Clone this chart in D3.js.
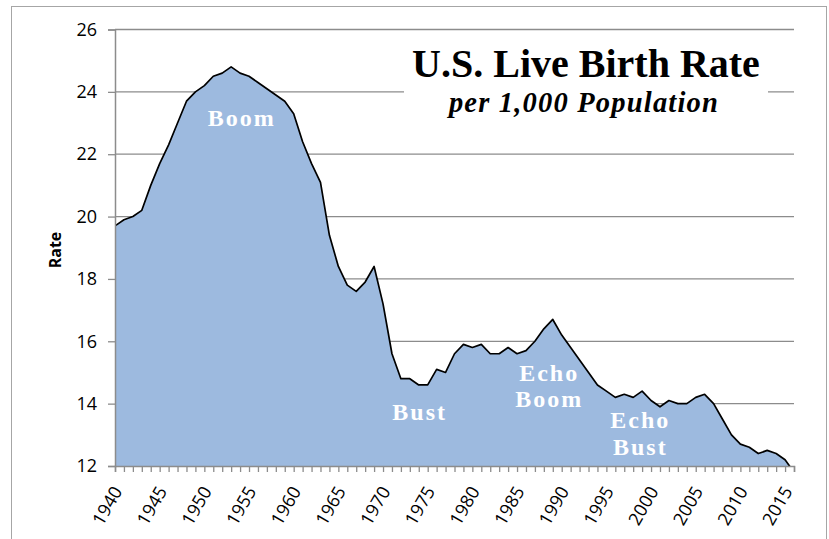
<!DOCTYPE html>
<html>
<head>
<meta charset="utf-8">
<script src="https://cdn.jsdelivr.net/npm/d3@7"></script>
<style>
  body { margin: 0; background: #fff; }
  svg { display: block; }
</style>
</head>
<body>
<div id="chart"></div>
<script>
/* global d3 */

// data
const years = d3.range(1940, 2017);
const rates = [
  19.7, 19.9, 20.0, 20.2, 21.0, 21.7, 22.3, 23.0, 23.7, 24.0,
  24.2, 24.5, 24.6, 24.8, 24.6, 24.5, 24.3, 24.1, 23.9, 23.7,
  23.3, 22.4, 21.7, 21.1, 19.4, 18.4, 17.8, 17.6, 17.9, 18.4,
  17.2, 15.6, 14.8, 14.8, 14.6, 14.6, 15.1, 15.0, 15.6, 15.9,
  15.8, 15.9, 15.6, 15.6, 15.8, 15.6, 15.7, 16.0, 16.4, 16.7,
  16.2, 15.8, 15.4, 15.0, 14.6, 14.4, 14.2, 14.3, 14.2, 14.4,
  14.1, 13.9, 14.1, 14.0, 14.0, 14.2, 14.3, 14.0, 13.5, 13.0,
  12.7, 12.6, 12.4, 12.5, 12.4, 12.2, 11.8,
];
const yTicks = [12, 14, 16, 18, 20, 22, 24, 26];
const xLabelYears = d3.range(1940, 2016, 5);

const notes = [
  { lines: ['Boom'], year: 1954.2, rate: 22.9 },
  { lines: ['Bust'], year: 1974.1, rate: 13.48 },
  { lines: ['Echo', 'Boom'], year: 1988.6, rate: 14.74 },
  { lines: ['Echo', 'Bust'], year: 1998.8, rate: 13.21 },
];

const width = 829;
const height = 539;
const plotLeft = 115;
const plotRight = 794;
const plotTop = 29.5;
const plotBottom = 466;

const gridGrey = '#8c8c8c';
const areaBlue = '#9dbadf';
const tickFont = '"Open Sans", "DejaVu Sans", sans-serif';
const serif = '"Liberation Serif", "Times New Roman", serif';

const svg = d3.select('#chart')
  .append('svg')
  .attr('width', width)
  .attr('height', height);

// outer frame
svg.append('rect')
  .attr('x', 11.5)
  .attr('y', 6.5)
  .attr('width', 815)
  .attr('height', 545)
  .attr('fill', 'none')
  .attr('stroke', '#a6a6a6')
  .attr('stroke-width', 1);

const x = d3.scaleLinear()
  .domain([1940, 2016])
  .range([plotLeft, plotRight]);

const y = d3.scaleLinear()
  .domain([12, 26])
  .range([plotBottom, plotTop]);

// gridlines
svg.append('g')
  .selectAll('line')
  .data(yTicks.slice(1))
  .enter()
  .append('line')
  .attr('x1', plotLeft)
  .attr('x2', plotRight)
  .attr('y1', (d) => y(d))
  .attr('y2', (d) => y(d))
  .attr('stroke', gridGrey)
  .attr('stroke-width', 1.3);

// white box behind the title
svg.append('rect')
  .attr('x', 404)
  .attr('y', 38)
  .attr('width', 364)
  .attr('height', 84)
  .attr('fill', '#fff');

// area
svg.append('clipPath')
  .attr('id', 'plot-clip')
  .append('rect')
  .attr('x', plotLeft)
  .attr('y', plotTop - 2)
  .attr('width', plotRight - plotLeft)
  .attr('height', plotBottom - plotTop + 2);

const series = years.map((yr, i) => ({ year: yr, rate: rates[i] }));

const area = d3.area()
  .x((d) => x(d.year))
  .y0(y(12))
  .y1((d) => y(d.rate));

const line = d3.line()
  .x((d) => x(d.year))
  .y((d) => y(d.rate));

const plot = svg.append('g').attr('clip-path', 'url(#plot-clip)');

plot.append('path')
  .datum(series)
  .attr('d', area)
  .attr('fill', areaBlue);

plot.append('path')
  .datum(series)
  .attr('d', line)
  .attr('fill', 'none')
  .attr('stroke', '#000')
  .attr('stroke-width', 1.7)
  .attr('stroke-linejoin', 'round');

// y axis
const yAxis = d3.axisLeft(y)
  .tickValues(yTicks)
  .tickSize(7)
  .tickPadding(11);

const yAxisG = svg.append('g')
  .attr('transform', `translate(${plotLeft} 0)`)
  .call(yAxis);

// x axis, one tick per year
const xAxis = d3.axisBottom(x)
  .tickValues(years)
  .tickSize(6)
  .tickFormat('');

const xAxisG = svg.append('g')
  .attr('transform', `translate(0 ${plotBottom})`)
  .call(xAxis);

// style the axes
svg.selectAll('.domain')
  .attr('stroke', gridGrey)
  .attr('stroke-width', 1.5);
svg.selectAll('.tick line')
  .attr('stroke', gridGrey)
  .attr('stroke-width', 1.3);
yAxisG.selectAll('text')
  .style('font-family', tickFont)
  .style('font-size', '18px')
  .attr('fill', '#000');

// rotated year labels
xAxisG.append('g')
  .selectAll('text')
  .data(xLabelYears)
  .enter()
  .append('text')
  .attr('transform', (d) => `translate(${x(d) + 8} 25)rotate(-60)`)
  .attr('text-anchor', 'end')
  .style('font-family', tickFont)
  .style('font-size', '18px')
  .attr('fill', '#000')
  .text((d) => d);

// y axis title
svg.append('text')
  .attr('transform', `translate(${61} ${250})rotate(-90)`)
  .attr('text-anchor', 'middle')
  .style('font-family', tickFont)
  .style('font-size', '16px')
  .style('font-weight', 'bold')
  .text('Rate');

// title
svg.append('text')
  .attr('x', 586)
  .attr('y', 77)
  .attr('text-anchor', 'middle')
  .style('font-family', serif)
  .style('font-size', '40px')
  .style('font-weight', 'bold')
  .text('U.S. Live Birth Rate');

svg.append('text')
  .attr('x', 584)
  .attr('y', 112)
  .attr('text-anchor', 'middle')
  .style('font-family', serif)
  .style('font-size', '28.5px')
  .style('font-weight', 'bold')
  .style('font-style', 'italic')
  .style('letter-spacing', '1.2px')
  .text('per 1,000 Population');

// annotations inside the area
const noteG = svg.append('g');
notes.forEach((n) => {
  n.lines.forEach((t, i) => {
    noteG.append('text')
      .attr('x', x(n.year))
      .attr('y', y(n.rate) + i * 26.6)
      .attr('text-anchor', 'middle')
      .style('font-family', serif)
      .style('font-size', '24px')
      .style('font-weight', 'bold')
      .style('letter-spacing', '2px')
      .attr('fill', '#fff')
      .text(t);
  });
});
</script>
</body>
</html>
